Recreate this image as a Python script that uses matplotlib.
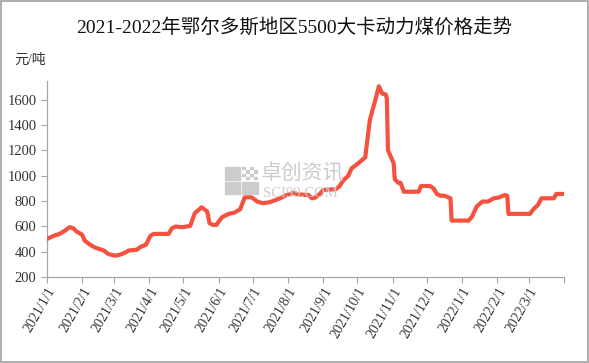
import numpy as np
import pandas as pd
import matplotlib
matplotlib.use("Agg")
import matplotlib.pyplot as plt
from matplotlib.patches import Rectangle

plt.rcParams['font.family'] = ['Liberation Serif', 'Noto Sans CJK SC', 'DejaVu Sans']

# price readings (yuan/ton)
dates = ['2021-01-01', '2021-01-07', '2021-01-12', '2021-01-17', '2021-01-21', '2021-01-24',
         '2021-01-27', '2021-02-01', '2021-02-03', '2021-02-08', '2021-02-12', '2021-02-20',
         '2021-02-24', '2021-03-02', '2021-03-06', '2021-03-11', '2021-03-14', '2021-03-21',
         '2021-03-24', '2021-03-29', '2021-04-02', '2021-04-05', '2021-04-18', '2021-04-21',
         '2021-04-24', '2021-04-30', '2021-05-07', '2021-05-11', '2021-05-17', '2021-05-22',
         '2021-05-24', '2021-05-27', '2021-05-30', '2021-06-04', '2021-06-10', '2021-06-15',
         '2021-06-20', '2021-06-24', '2021-06-30', '2021-07-05', '2021-07-10', '2021-07-16',
         '2021-07-25', '2021-07-31', '2021-08-06', '2021-08-10', '2021-08-19', '2021-08-22',
         '2021-08-25', '2021-08-29', '2021-09-01', '2021-09-12', '2021-09-15', '2021-09-19',
         '2021-09-23', '2021-09-26', '2021-10-01', '2021-10-08', '2021-10-12', '2021-10-16',
         '2021-10-20', '2021-10-21', '2021-10-23', '2021-10-26', '2021-10-27', '2021-10-28',
         '2021-11-02', '2021-11-03', '2021-11-06', '2021-11-08', '2021-11-11', '2021-11-24',
         '2021-11-26', '2021-12-04', '2021-12-07', '2021-12-10', '2021-12-13', '2021-12-17',
         '2021-12-22', '2021-12-23', '2022-01-07', '2022-01-10', '2022-01-14', '2022-01-19',
         '2022-01-24', '2022-01-29', '2022-02-02', '2022-02-08', '2022-02-10', '2022-02-11',
         '2022-03-02', '2022-03-05', '2022-03-09', '2022-03-12', '2022-03-23', '2022-03-25',
         '2022-03-31']
prices = [500, 525, 540, 567, 593, 585,
          559, 533, 488, 454, 433, 409,
          381, 368, 375, 393, 409, 415,
          436, 454, 525, 540, 540, 585,
          598, 593, 603, 703, 750, 716,
          625, 611, 611, 672, 698, 708,
          735, 829, 829, 795, 782, 790,
          821, 847, 865, 852, 847, 821,
          826, 855, 887, 892, 913, 965,
          997, 1057, 1091, 1144, 1437, 1568,
          1705, 1686, 1647, 1641, 1608, 1201,
          1097, 971, 944, 944, 873, 873,
          918, 918, 900, 855, 842, 840,
          821, 645, 645, 677, 755, 795,
          795, 821, 826, 847, 840, 698,
          698, 735, 769, 821, 821, 855,
          855]

tick_dates = pd.date_range('2021-01-01', '2022-04-01', freq='MS')
tick_labels = [f'{d.year}/{d.month}/1' for d in tick_dates[:-1]] + ['']
y_ticks = [200, 400, 600, 800, 1000, 1200, 1400, 1600]

title = '2021-2022年鄂尔多斯地区5500大卡动力煤价格走势'

W, H = 589, 363
fig = plt.figure(figsize=(W / 100, H / 100), dpi=100)
ax = fig.add_axes([0.0798, 0.237, 0.878, 0.541])

x = pd.to_datetime(dates)
ax.plot(x, prices, color='#F4513F', linewidth=3.0, solid_joinstyle='round', zorder=3)

ax.set_xlim(pd.Timestamp('2021-01-01'), pd.Timestamp('2022-04-01'))
ax.set_ylim(200, 1750)
ax.set_yticks(y_ticks)
ax.set_xticks(tick_dates)
ax.set_xticklabels(tick_labels, rotation=60, ha='right', rotation_mode='anchor')

for s in ['top', 'right']:
    ax.spines[s].set_visible(False)
for s in ['left', 'bottom']:
    ax.spines[s].set_color('#A6A6A6')
    ax.spines[s].set_linewidth(0.9)
ax.tick_params(axis='both', direction='out', length=4, color='#A6A6A6',
               labelsize=10.5, labelcolor='#333333')
ax.tick_params(axis='x', labelsize=10, pad=2)

fig.text(0.5, 0.925, title, ha='center', va='center', fontsize=14, color='#111111')
fig.text(0.025, 0.835, '元/吨', ha='left', va='center', fontsize=10, color='#333333')

# watermark (logo: three grey squares plus a dotted one, then the name)
wm = '#CCCCCC'
def px_rect(x0, y0, w, h):
    fig.patches.append(Rectangle((x0 / W, 1 - (y0 + h) / H), w / W, h / H,
                                 transform=fig.transFigure, color=wm, zorder=0))

px_rect(225, 167, 15, 13)
px_rect(225, 182, 15, 12)
px_rect(242, 182, 16, 12)
for i in range(4):
    for j in range(4):
        if (i + j) % 2 == 0:
            px_rect(242 + i * 4, 167 + j * 3.3, 2.5, 2.3)

fig.text(261 / W, 1 - 180 / H, '卓创资讯', ha='left', va='baseline', fontsize=15,
         color=wm, family=['Noto Sans CJK SC'], zorder=0)
fig.text(263 / W, 1 - 197 / H, 'SCI99.COM', ha='left', va='baseline', fontsize=10.5,
         color=wm, zorder=0)

# outer border
fig.patches.append(Rectangle((0.001, 0.002), 0.997, 0.995, transform=fig.transFigure,
                             fill=False, edgecolor='#A0A0A0', linewidth=1.2))

fig.savefig('out.png', dpi=100)
